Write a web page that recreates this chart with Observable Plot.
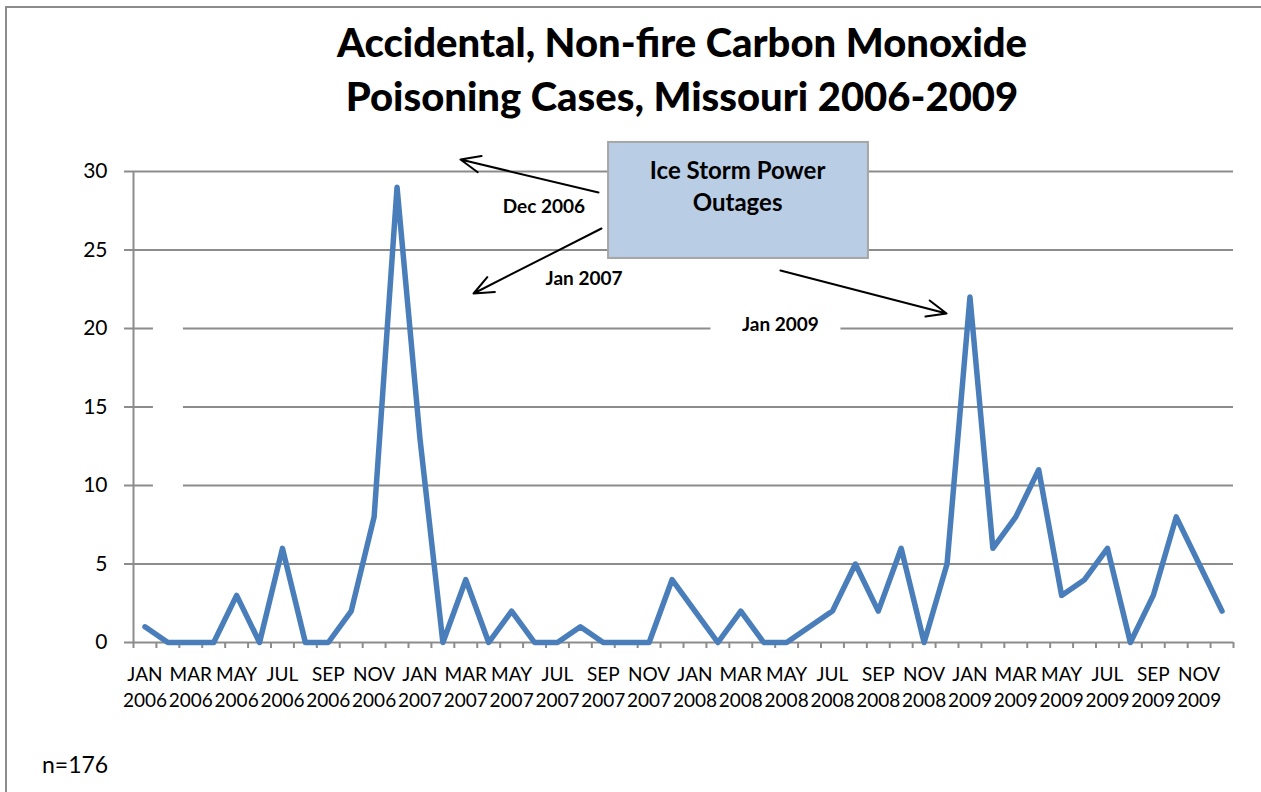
<!DOCTYPE html>
<html>
<head>
<meta charset="utf-8">
<script src="https://cdn.jsdelivr.net/npm/d3@7"></script>
<script src="https://cdn.jsdelivr.net/npm/@observablehq/plot@0.6"></script>
<style>
  body { margin: 0; background: #fff; }
  #wrap { position: relative; width: 1261px; height: 792px; overflow: hidden; font-family: Lato, "Open Sans", sans-serif; }
  #frame { position: absolute; left: 5px; top: 6px; width: 1400px; height: 900px; border: 2px solid #8c8c8c; box-sizing: border-box; }
  #title { position: absolute; left: 0; width: 1364px; top: 15px; text-align: center; font-weight: 900; font-size: 40px; line-height: 54px; color: #000; }
  #note { position: absolute; left: 42px; top: 750px; font-size: 23px; color: #000; }
  #chart { position: absolute; left: 0; top: 0; }
</style>
</head>
<body>
<div id="wrap">
  <div id="frame"></div>
  <div id="chart"></div>
  <div id="title">Accidental, Non-fire Carbon Monoxide<br>Poisoning Cases, Missouri 2006-2009</div>
  <div id="note">n=176</div>
</div>
<script>
// ---- data ----
const monthNames = ["JAN","FEB","MAR","APR","MAY","JUN","JUL","AUG","SEP","OCT","NOV","DEC"];
const years = [2006, 2007, 2008, 2009];
const cases = [
  1, 0, 0, 0, 3, 0, 6, 0, 0, 2, 8, 29,     // 2006
  13, 0, 4, 0, 2, 0, 0, 1, 0, 0, 0, 4,     // 2007
  2, 0, 2, 0, 0, 1, 2, 5, 2, 6, 0, 5,      // 2008
  22, 6, 8, 11, 3, 4, 6, 0, 3, 8, 5, 2     // 2009
];
const yTicks = [0, 5, 10, 15, 20, 25, 30];

const months = years.flatMap(y => monthNames.map(m => ({m, y})));
const table = months.map((d, i) => ({i, label: d.m + "\n" + d.y, value: cases[i]}));
const labelIdx = table.filter(d => d.i % 2 === 0).map(d => d.i);
const edges = d3.range(months.length + 1).map(i => i - 0.5);

// ---- annotations (positions in data space) ----
const box = [{x1: 20.23, x2: 31.57, y1: 24.46, y2: 31.85}];
const boxText = [{t: "Ice Storm Power", x: 25.86, y: 30.03}, {t: "Outages", x: 25.86, y: 27.99}];
const arrows = [
  {x1: 19.79, y1: 28.66, x2: 13.77, y2: 30.76},
  {x1: 19.92, y1: 26.37, x2: 14.34, y2: 22.23},
  {x1: 27.73, y1: 23.69, x2: 34.98, y2: 20.96}
];
const notes = [
  {t: "Dec 2006", x: 17.41, y: 27.74},
  {t: "Jan 2007", x: 19.16, y: 23.18},
  {t: "Jan 2009", x: 27.73, y: 20.2}
];
const whiteOut = [
  {x1: 24.70, x2: 30.37, y1: 19.2, y2: 21.0},
  {x1: 0.37, x2: 1.68, y1: 9.68, y2: 24.6}
];

const gray = "#8c8c8c";
const chart = Plot.plot({
  width: 1261,
  height: 792,
  marginLeft: 133,
  marginRight: 28,
  marginTop: 171,
  marginBottom: 150,
  style: {fontFamily: "Lato, 'Open Sans', sans-serif", color: "#000", overflow: "visible", background: "transparent"},
  x: {type: "linear", domain: [-0.5, months.length - 0.5], axis: null},
  y: {domain: [0, 30], axis: null},
  marks: [
    Plot.ruleY(yTicks, {stroke: gray, strokeWidth: 2, strokeOpacity: 1}),
    Plot.axisY({ticks: yTicks, tickSize: 9, tickPadding: 17, fontSize: 21, stroke: gray, strokeWidth: 2, strokeOpacity: 1, label: null}),
    Plot.axisX({ticks: edges, tickSize: 6, tickFormat: () => "", stroke: gray, strokeWidth: 2, strokeOpacity: 1, label: null}),
    Plot.axisX({ticks: labelIdx, tickSize: 0, tickPadding: 20, fontSize: 19, lineHeight: 1.38,
      tickFormat: i => table[i].label, label: null}),
    Plot.ruleX([-0.5], {stroke: gray, strokeWidth: 2}),
    Plot.rect(whiteOut, {x1: "x1", x2: "x2", y1: "y1", y2: "y2", fill: "white"}),
    Plot.lineY(table, {x: "i", y: "value", stroke: "#4a7ebb", strokeWidth: 5.5, strokeLinejoin: "round", strokeLinecap: "round"}),
    Plot.arrow(arrows, {x1: "x1", y1: "y1", x2: "x2", y2: "y2", stroke: "#000", strokeWidth: 2, headLength: 16, headAngle: 46}),
    Plot.rect(box, {x1: "x1", x2: "x2", y1: "y1", y2: "y2", fill: "#b9cde5", stroke: "#a6a6a6", strokeWidth: 2}),
    Plot.text(boxText, {x: "x", y: "y", text: "t", fontSize: 24, fontWeight: "bold", fill: "#000"}),
    Plot.text(notes, {x: "x", y: "y", text: "t", fontSize: 19, fontWeight: "bold", fill: "#000"})
  ]
});
document.getElementById("chart").appendChild(chart);
</script>
</body>
</html>
